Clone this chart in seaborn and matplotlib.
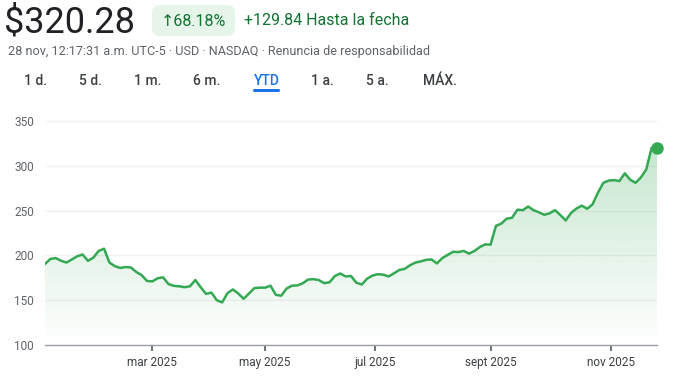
import numpy as np
import matplotlib
matplotlib.use("Agg")
import matplotlib.pyplot as plt
import seaborn as sns
from matplotlib.patches import FancyBboxPatch
from matplotlib.transforms import IdentityTransform
from matplotlib.colors import to_rgb

# price, one value every 2 trading sessions
session = np.arange(0, 229, 2)
price = [
    190.44, 196, 197, 194, 192, 195.5, 199, 201, 194, 197.5,
    205, 207.5, 192, 188, 186, 187, 186.5, 181.5, 178, 171.5,
    171, 174.5, 175.5, 168, 166, 165.5, 164.5, 165.5, 172.5, 164.5,
    157, 158.5, 150, 147.5, 158, 162, 157.5, 151.5, 157.5, 163.5,
    164, 164, 166.2, 156, 155, 163, 166.2, 166.5, 168.8, 173,
    173.5, 172.5, 169, 170, 177, 179.8, 176.5, 177, 169.5, 167.5,
    174, 177.5, 179, 178.5, 176.5, 180, 183.7, 185, 189, 192,
    193.3, 195, 195.5, 191, 197, 200.5, 204, 203.7, 205, 202,
    205, 209.3, 212.3, 212, 233, 235.5, 241, 242, 251, 250.5,
    254.5, 250.5, 248.1, 245.3, 247, 250.5, 245, 239, 247.5, 252.3,
    255.5, 252, 257, 270, 281, 283.5, 284, 283, 291.6, 284.5,
    281, 287, 296, 320, 320.28,
]

tick_session = [40, 82, 123, 166, 211]
tick_labels = ["mar 2025", "may 2025", "jul 2025", "sept 2025", "nov 2025"]
y_ticks = [100, 150, 200, 250, 300, 350]

tabs = ["1 d.", "5 d.", "1 m.", "6 m.", "YTD", "1 a.", "5 a.", "MÁX."]
active_tab = "YTD"

GREEN = "#34a853"
W, H = 676, 386

sns.set_theme(style="white")
plt.rcParams["font.family"] = ["Roboto", "DejaVu Sans"]

fig = plt.figure(figsize=(W / 100, H / 100), dpi=100)
ax = fig.add_axes([45 / W, 1 - 345 / H, 612 / W, 228.5 / H])

# gradient fill under the line
grad = np.zeros((256, 1, 4))
grad[..., :3] = to_rgb(GREEN)
grad[:, 0, 3] = np.linspace(0.28, 0.0, 256)
im = ax.imshow(grad, extent=[session[0], session[-1], 100, max(price)],
               aspect="auto", origin="upper", zorder=1)
poly = ax.fill_between(session, price, 100, color="none", lw=0)
im.set_clip_path(poly.get_paths()[0], ax.transData)

sns.lineplot(x=session, y=price, ax=ax, color=GREEN, linewidth=1.8, zorder=3)
ax.plot(session[-1], price[-1], "o", ms=8, color=GREEN, zorder=4, clip_on=False)

ax.set_xlim(session[0], session[-1])
ax.set_ylim(100, 355)
ax.set_yticks(y_ticks)
ax.set_xticks(tick_session, tick_labels)
ax.yaxis.grid(True, color="#f0f0f0", lw=1)
ax.set_axisbelow(True)
for s in ["top", "left", "right"]:
    ax.spines[s].set_visible(False)
ax.spines["bottom"].set_color("#9aa0a6")
ax.spines["bottom"].set_linewidth(1)
ax.tick_params(axis="y", length=0, pad=8, labelsize=8.5, labelcolor="#5f6368")
ax.tick_params(axis="x", bottom=True, length=4, width=1.5, color="#70757a", pad=4,
               labelsize=8.5, labelcolor="#3c4043")

# header
fig.text(4 / W, 1 - 22 / H, "$320.28", fontsize=26, color="#202124", va="center", ha="left")
badge = FancyBboxPatch((152, H - 36), 83, 31, boxstyle="round,pad=0,rounding_size=8",
                       fc="#e6f4ea", ec="none", transform=IdentityTransform())
fig.add_artist(badge)
fig.text(193.5 / W, 1 - 21 / H, "↑68.18%", fontsize=11.5, color="#137333",
         ha="center", va="center")
fig.text(244 / W, 1 - 20.5 / H, "+129.84 Hasta la fecha", fontsize=11.5, color="#137333",
         ha="left", va="center")
fig.text(8 / W, 1 - 51.5 / H,
         "28 nov, 12:17:31 a.m. UTC-5 · USD · NASDAQ · Renuncia de responsabilidad",
         fontsize=9.1, color="#5f6368", ha="left", va="center")

tab_x = [35, 90, 147.5, 206.5, 266.5, 322.5, 377.5, 439.5]
for label, cx in zip(tabs, tab_x):
    col = "#1a73e8" if label == active_tab else "#3c4043"
    fig.text(cx / W, 1 - 81 / H, label, fontsize=10, color=col, ha="center",
             va="center", fontweight="medium")
underline = FancyBboxPatch((253, H - 92), 27, 3, boxstyle="round,pad=0,rounding_size=1.5",
                           fc="#1a73e8", ec="none", transform=IdentityTransform())
fig.add_artist(underline)

fig.savefig("out.png", dpi=100)
